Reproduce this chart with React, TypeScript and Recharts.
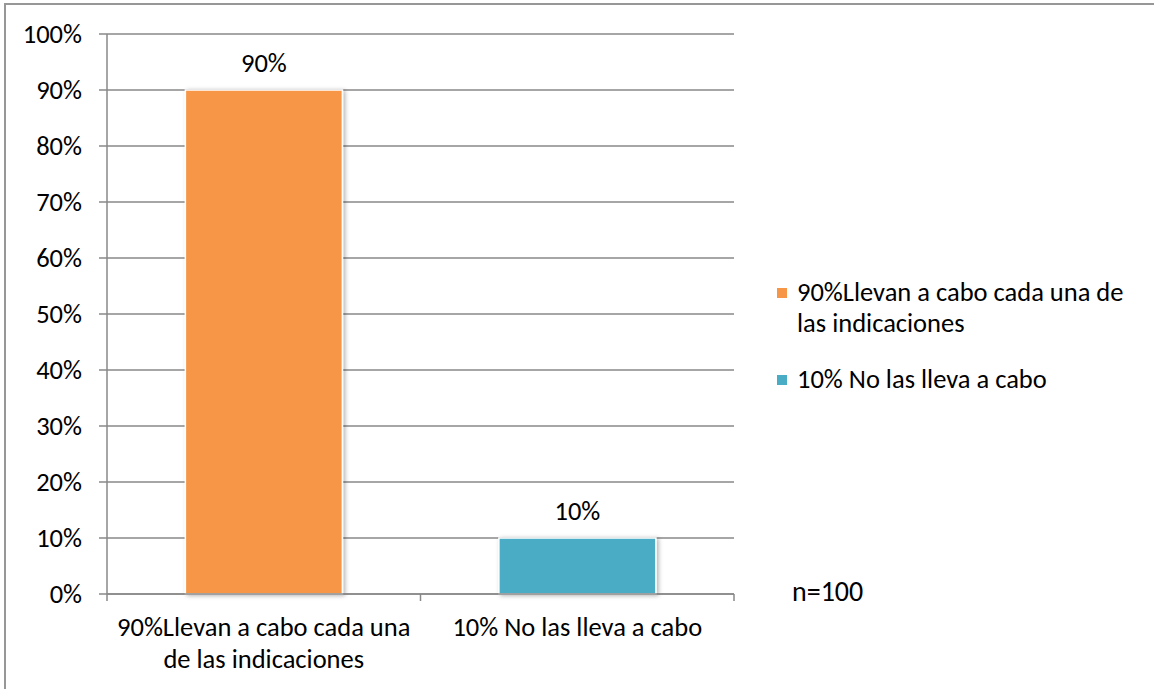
import React from "react";
import {
  BarChart,
  Bar,
  Cell,
  XAxis,
  YAxis,
  CartesianGrid,
  LabelList,
} from "recharts";

const categories = [
  "90%Llevan a cabo cada una de las indicaciones",
  "10% No las lleva a cabo",
];
// axis labels as they wrap under the bars
const xTickLines = [
  ["90%Llevan a cabo cada una", "de las indicaciones"],
  ["10% No las lleva a cabo"],
];
const percentValues = [90, 10];
const barColors = ["#F79646", "#4BACC6"];
const yTicks = [0, 10, 20, 30, 40, 50, 60, 70, 80, 90, 100];
const sampleNote = "n=100";

const data = categories.map((name, i) => ({
  name,
  value: percentValues[i],
  color: barColors[i],
}));

const W = 1154;
const H = 689;
const PLOT_LEFT = 107;
const PLOT_RIGHT = 734;
const BAND = (PLOT_RIGHT - PLOT_LEFT) / categories.length;
const FONT = "Carlito, Calibri, 'Open Sans', sans-serif";
const FS = 26.5;
const GRID = "#898989";

function CategoryTick(props: any) {
  const { x, y, index } = props;
  const half = BAND / 2;
  const lines = xTickLines[index] || [];
  return (
    <g>
      <line x1={x - half} x2={x - half} y1={y} y2={y + 7} stroke={GRID} strokeWidth={1.5} />
      {index === categories.length - 1 && (
        <line x1={x + half} x2={x + half} y1={y} y2={y + 7} stroke={GRID} strokeWidth={1.5} />
      )}
      <text
        x={x}
        y={y + 42}
        textAnchor="middle"
        fontSize={FS}
        fontFamily={FONT}
        fill="#000"
      >
        {lines.map((l, i) => (
          <tspan key={i} x={x} dy={i === 0 ? 0 : 32}>
            {l}
          </tspan>
        ))}
      </text>
    </g>
  );
}

function LegendBox() {
  return (
    <div
      style={{
        position: "absolute",
        left: 777,
        top: 277,
        fontFamily: FONT,
        fontSize: FS,
        lineHeight: "31px",
        color: "#000",
      }}
    >
      {data.map((d) => (
        <div key={d.name} style={{ display: "flex", alignItems: "flex-start", marginBottom: 25 }}>
          <span
            style={{
              display: "inline-block",
              width: 10,
              height: 10,
              background: d.color,
              marginTop: 11,
              marginRight: 10,
              flex: "none",
            }}
          />
          <span style={{ width: 350 }}>{d.name}</span>
        </div>
      ))}
    </div>
  );
}

export default function App(): JSX.Element {
  return (
    <div
      style={{
        position: "fixed",
        left: 0,
        top: 0,
        width: W,
        height: H,
        overflow: "hidden",
        background: "#fff",
      }}
    >
      <div
        style={{
          position: "absolute",
          left: 4,
          top: 3,
          width: W + 50,
          height: H + 50,
          borderTop: "2px solid #979797",
          borderLeft: "2px solid #979797",
        }}
      />
      <div style={{ position: "absolute", left: 0, top: 0 }}>
        <BarChart
          width={W}
          height={H}
          data={data}
          margin={{ top: 34, right: W - PLOT_RIGHT, bottom: 5, left: 27 }}
          barCategoryGap="25%"
        >
          <defs>
            <filter id="barShadow" x="-10%" y="-10%" width="130%" height="130%">
              <feDropShadow dx="2" dy="1" stdDeviation="2" floodColor="#000" floodOpacity="0.3" />
            </filter>
          </defs>
          <CartesianGrid vertical={false} stroke={GRID} strokeWidth={1.5} />
          <XAxis
            dataKey="name"
            height={90}
            tickLine={false}
            tickSize={0}
            tickMargin={0}
            axisLine={{ stroke: GRID, strokeWidth: 1.5 }}
            tick={<CategoryTick />}
            interval={0}
          />
          <YAxis
            width={80}
            domain={[0, 100]}
            ticks={yTicks}
            tickFormatter={(v: number) => `${v}%`}
            tickSize={8}
            tickMargin={17}
            tickLine={{ stroke: GRID, strokeWidth: 1.5 }}
            axisLine={{ stroke: GRID, strokeWidth: 1.5 }}
            tick={{ fontSize: FS, fontFamily: FONT, fill: "#000" }}
            interval={0}
          />
          <Bar
            dataKey="value"
            isAnimationActive={false}
            stroke="#fff"
            strokeWidth={1.5}
            filter="url(#barShadow)"
          >
            {data.map((d) => (
              <Cell key={d.name} fill={d.color} />
            ))}
            <LabelList
              dataKey="value"
              position="top"
              offset={18}
              formatter={(v: number) => `${v}%`}
              style={{ fontSize: FS, fontFamily: FONT, fill: "#000" }}
            />
          </Bar>
        </BarChart>
      </div>
      <LegendBox />
      <div
        style={{
          position: "absolute",
          left: 792,
          top: 574,
          fontFamily: FONT,
          fontSize: 28,
          lineHeight: "36px",
          color: "#000",
        }}
      >
        {sampleNote}
      </div>
    </div>
  );
}
